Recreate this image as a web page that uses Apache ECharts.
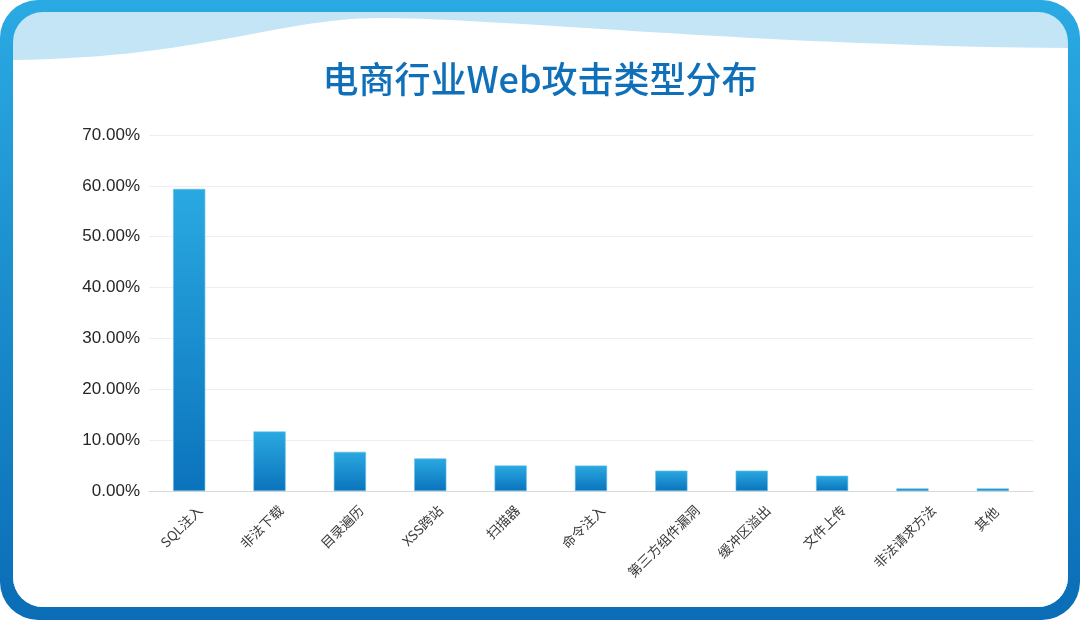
<!DOCTYPE html>
<html>
<head>
<meta charset="utf-8">
<script src="https://cdn.jsdelivr.net/npm/echarts@6/dist/echarts.min.js"></script>
<style>
html,body{margin:0;padding:0;background:#fff;}
#c{width:1080px;height:622px;}
</style>
</head>
<body>
<div id="c"></div>
<script>
var titleText = '电商行业Web攻击类型分布';
var categories = ['SQL注入','非法下载','目录遍历','XSS跨站','扫描器','命令注入','第三方组件漏洞','缓冲区溢出','文件上传','非法请求方法','其他'];
var values = [59.4, 11.7, 7.7, 6.4, 5.0, 5.0, 4.0, 4.0, 3.0, 0.5, 0.5];
var yTicks = [0, 10, 20, 30, 40, 50, 60, 70];

var LABEL_FONT_SIZE = 13.5;
var LABEL_FONT = '"Noto Sans CJK SC", "Liberation Sans", sans-serif';

// decorative wave outline of the frame (not data)
function bez(p0, p1, p2, p3, n) {
  var out = [];
  for (var i = 0; i <= n; i++) {
    var t = i / n, u = 1 - t;
    out.push([
      u*u*u*p0[0] + 3*u*u*t*p1[0] + 3*u*t*t*p2[0] + t*t*t*p3[0],
      u*u*u*p0[1] + 3*u*u*t*p1[1] + 3*u*t*t*p2[1] + t*t*t*p3[1]
    ]);
  }
  return out;
}
var wavePts = bez([13,60],[200,58],[280,18],[380,18],30)
  .concat(bez([380,18],[500,18],[760,46],[1068,48],40).slice(1));
wavePts.push([1068, 70]);
wavePts.push([13, 70]);

// Excel-style rotated labels: bounding box centred under the tick, top aligned
var measureCtx = document.createElement('canvas').getContext('2d');
measureCtx.font = LABEL_FONT_SIZE + 'px ' + LABEL_FONT;
var xAxisItems = categories.map(function (c) {
  var L = measureCtx.measureText(c).width;
  var h = LABEL_FONT_SIZE;
  var p = (L + h) / 2;
  return {
    value: c,
    textStyle: {
      align: 'center',
      verticalAlign: 'top',
      lineHeight: Math.max(h, p - 11),
      padding: [0, p + 11, 0, 0],
      fontSize: LABEL_FONT_SIZE,
      fontFamily: LABEL_FONT,
      color: '#3a3a3a'
    }
  };
});

var chart = echarts.init(document.getElementById('c'));
chart.setOption({
  backgroundColor: '#ffffff',
  animation: false,
  graphic: [
    {
      type: 'rect', z: -10, silent: true,
      shape: { x: 0, y: 0, width: 1080, height: 620, r: 38 },
      style: { fill: new echarts.graphic.LinearGradient(0, 0, 0, 1, [
        { offset: 0, color: '#2aaae2' }, { offset: 1, color: '#0a6db6' }]) }
    },
    {
      type: 'rect', z: -9, silent: true,
      shape: { x: 13, y: 12, width: 1055, height: 595, r: 30 },
      style: { fill: '#c4e5f5' }
    },
    {
      type: 'rect', z: -8, silent: true,
      shape: { x: 13, y: 60, width: 1055, height: 547, r: [0, 0, 30, 30] },
      style: { fill: '#ffffff' }
    },
    {
      type: 'polygon', z: -8, silent: true,
      shape: { points: wavePts },
      style: { fill: '#ffffff' }
    }
  ],
  title: {
    text: titleText,
    left: 'center',
    top: 56,
    textStyle: {
      fontFamily: '"Noto Sans CJK SC", "Liberation Sans", sans-serif',
      fontSize: 36,
      fontWeight: 500,
      color: '#0f70b9'
    }
  },
  grid: { left: 149, right: 47, top: 135, bottom: 131, containLabel: false },
  xAxis: {
    type: 'category',
    data: xAxisItems,
    axisLine: { lineStyle: { color: '#d9d9d9', width: 1 } },
    axisTick: { show: false },
    axisLabel: {
      rotate: 45,
      interval: 0,
      margin: 12,
      align: 'center',
      verticalAlign: 'top',
      fontSize: LABEL_FONT_SIZE,
      color: '#3a3a3a',
      fontFamily: LABEL_FONT
    }
  },
  yAxis: {
    type: 'value',
    min: 0,
    max: 70,
    interval: 10,
    axisLine: { show: false },
    axisTick: { show: false },
    splitLine: { lineStyle: { color: '#eeeeee', width: 1 } },
    axisLabel: {
      margin: 9,
      fontSize: 17,
      color: '#262626',
      fontFamily: '"Liberation Sans", Arial, sans-serif',
      formatter: function (v) { return yTicks.indexOf(v) >= 0 ? v.toFixed(2) + '%' : ''; }
    }
  },
  series: [{
    type: 'bar',
    data: values,
    barWidth: '40%',
    itemStyle: {
      color: new echarts.graphic.LinearGradient(0, 0, 0, 1, [
        { offset: 0, color: '#2aa9e1' }, { offset: 1, color: '#0b73bc' }]),
      borderColor: '#5fc0ea',
      borderWidth: 0.6
    }
  }]
});
</script>
</body>
</html>
